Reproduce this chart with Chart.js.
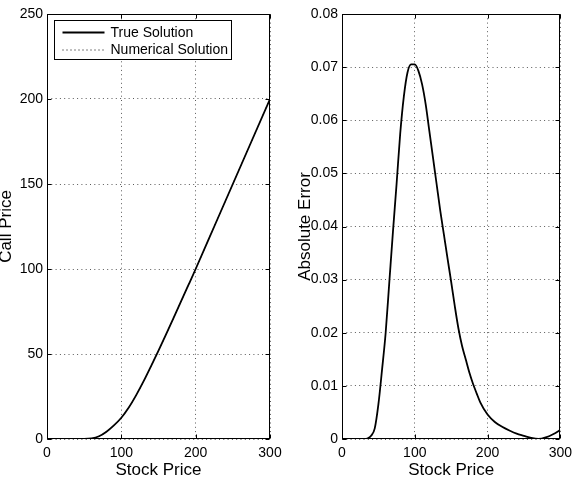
<!DOCTYPE html>
<html>
<head>
<meta charset="utf-8">
<script src="https://cdn.jsdelivr.net/npm/chart.js@4.4.1/dist/chart.umd.min.js"></script>
<style>
  body { margin: 0; background: #fff; }
  #priceChart { position: absolute; left: 0; top: 0; }
  #errorChart { position: absolute; left: 290px; top: 0; }
</style>
</head>
<body>
<canvas id="priceChart" width="290" height="478"></canvas>
<canvas id="errorChart" width="288" height="478"></canvas>
<script>
// values
var stockPrice = [0, 10, 20, 30, 40, 50, 60, 70, 80, 90, 100, 110, 120, 130, 140, 150, 160, 170, 180, 190, 200, 225, 250, 275, 300];
var callTrue = [0, 0, 0, 0, 0, 0, 0.3, 1.6, 4.3, 8, 12.5, 18.5, 25.8, 34, 42.9, 52, 61.4, 71, 80.7, 90.3, 100, 125, 150, 175, 200];
var callNumerical = [0, 0, 0, 0, 0, 0, 0.3, 1.6, 4.3, 8, 12.5, 18.5, 25.8, 34, 42.9, 52, 61.4, 71, 80.7, 90.3, 100, 125, 150, 175, 200];

var errStock = [0, 10, 20, 30, 35, 40, 45, 50, 55, 60, 65, 70, 75, 80, 85, 90, 95, 100, 105, 110, 115, 120, 125, 130, 135, 140,
    145, 150, 155, 160, 165, 170, 175, 180, 185, 190, 200, 210, 220, 230, 240, 250, 260, 270, 280, 290, 300];
var absError = [0, 0, 0, 0, 0.0001, 0.0006, 0.002, 0.0065, 0.013, 0.02, 0.0295, 0.039, 0.048, 0.0575, 0.0645, 0.069, 0.0705, 0.0705,
    0.0693, 0.0668, 0.063, 0.058, 0.053, 0.048, 0.043, 0.0385, 0.034, 0.0296, 0.025, 0.0208, 0.0175, 0.015, 0.0125, 0.0104,
    0.0086, 0.0069, 0.0046, 0.0032, 0.0023, 0.0016, 0.001, 0.0006, 0.0002, 0, 0.0003, 0.0009, 0.0017];

var seriesNames = ['True Solution', 'Numerical Solution'];
var xTicks = ['0', '100', '200', '300'];
var priceTicks = ['0', '50', '100', '150', '200', '250'];
var errTicks = ['0', '0.01', '0.02', '0.03', '0.04', '0.05', '0.06', '0.07', '0.08'];

var FONT = '"Liberation Sans", Arial, Helvetica, sans-serif';

function toPoints(xs, ys) {
    return xs.map(function(x, i) { return { x: x, y: ys[i] }; });
}

// box around the axes with small inward ticks, like the original
var framePlugin = {
    id: 'frame',
    afterDatasetsDraw: function(chart) {
        var a = chart.chartArea, ctx = chart.ctx;
        var l = Math.round(a.left) + 0.5, r = Math.round(a.right) - 0.5;
        var t = Math.round(a.top) + 0.5, b = Math.round(a.bottom) - 0.5;
        ctx.save();
        ctx.strokeStyle = '#000';
        ctx.lineWidth = 1;
        ctx.strokeRect(l, t, r - l, b - t);
        ctx.beginPath();
        chart.scales.x.ticks.forEach(function(tk) {
            var px = Math.round(chart.scales.x.getPixelForValue(tk.value)) + 0.5;
            ctx.moveTo(px, b); ctx.lineTo(px, b - 4);
            ctx.moveTo(px, t); ctx.lineTo(px, t + 4);
        });
        chart.scales.y.ticks.forEach(function(tk) {
            var py = Math.round(chart.scales.y.getPixelForValue(tk.value)) + 0.5;
            ctx.moveTo(l, py); ctx.lineTo(l + 4, py);
            ctx.moveTo(r, py); ctx.lineTo(r - 4, py);
        });
        ctx.stroke();
        ctx.restore();
    }
};

// boxed legend in the upper left corner of the first plot
var boxLegendPlugin = {
    id: 'boxLegend',
    afterDraw: function(chart) {
        var a = chart.chartArea, ctx = chart.ctx;
        var x0 = Math.round(a.left) + 7.5, y0 = Math.round(a.top) + 6.5;
        ctx.save();
        ctx.fillStyle = '#fff';
        ctx.fillRect(x0, y0, 177, 39);
        ctx.strokeStyle = '#000';
        ctx.lineWidth = 1;
        ctx.strokeRect(x0, y0, 177, 39);
        ctx.font = '14px ' + FONT;
        ctx.textBaseline = 'middle';
        ctx.fillStyle = '#000';
        chart.data.datasets.forEach(function(ds, i) {
            var y = y0 + 12 + i * 17.5;
            ctx.beginPath();
            ctx.lineWidth = ds.borderWidth;
            ctx.setLineDash(ds.borderDash || []);
            ctx.moveTo(x0 + 8, y);
            ctx.lineTo(x0 + 50, y);
            ctx.stroke();
            ctx.setLineDash([]);
            ctx.fillText(ds.label, x0 + 56, y + 0.5);
        });
        ctx.restore();
    }
};

function axes(yMax, yStep, yLabels, yTitle, yWidth, yTitlePad) {
    var gridOpts = { color: 'rgba(0,0,0,0.65)', lineWidth: 1, drawTicks: false };
    var borderOpts = { display: false, dash: [1, 3.3] };
    return {
        x: {
            type: 'linear', min: 0, max: 300,
            grid: gridOpts, border: borderOpts,
            ticks: {
                stepSize: 100, padding: 6, color: '#000', maxRotation: 0,
                font: { family: FONT, size: 14 },
                callback: function(v) { return xTicks[v / 100]; }
            },
            title: {
                display: true, text: 'Stock Price', color: '#000',
                font: { family: FONT, size: 17 }, padding: { top: 0, bottom: -3 }
            },
            afterFit: function(s) { s.height = 39; }
        },
        y: {
            type: 'linear', min: 0, max: yMax,
            grid: gridOpts, border: borderOpts,
            ticks: {
                stepSize: yStep, padding: 4, color: '#000',
                font: { family: FONT, size: 14 },
                callback: function(v) { return yLabels[Math.round(v / yStep)]; }
            },
            title: {
                display: true, text: yTitle, color: '#000',
                font: { family: FONT, size: 17 }, padding: { top: yTitlePad, bottom: 0 }
            },
            afterFit: function(s) { s.width = yWidth; }
        }
    };
}

var priceChart = new Chart(document.getElementById('priceChart').getContext('2d'), {
    type: 'line',
    data: {
        datasets: [
            {
                label: seriesNames[0],
                data: toPoints(stockPrice, callTrue),
                borderColor: '#000', borderWidth: 1.8, pointRadius: 0,
                cubicInterpolationMode: 'monotone', fill: false
            },
            {
                label: seriesNames[1],
                data: toPoints(stockPrice, callNumerical),
                borderColor: '#000', borderWidth: 1, borderDash: [1, 3], pointRadius: 0,
                cubicInterpolationMode: 'monotone', fill: false
            }
        ]
    },
    options: {
        responsive: false, animation: false,
        layout: { padding: { top: 14, right: 20, bottom: 0, left: 0 } },
        plugins: { legend: { display: false }, tooltip: { enabled: false } },
        scales: axes(250, 50, priceTicks, 'Call Price', 47, -4)
    },
    plugins: [framePlugin, boxLegendPlugin]
});

var errorChart = new Chart(document.getElementById('errorChart').getContext('2d'), {
    type: 'line',
    data: {
        datasets: [
            {
                label: 'Absolute Error',
                data: toPoints(errStock, absError),
                borderColor: '#000', borderWidth: 1.8, pointRadius: 0,
                cubicInterpolationMode: 'monotone', fill: false
            }
        ]
    },
    options: {
        responsive: false, animation: false,
        layout: { padding: { top: 14, right: 14, bottom: 0, left: 0 } },
        plugins: { legend: { display: false }, tooltip: { enabled: false } },
        scales: axes(0.08, 0.01, errTicks, 'Absolute Error', 52, 5)
    },
    plugins: [framePlugin]
});
</script>
</body>
</html>
